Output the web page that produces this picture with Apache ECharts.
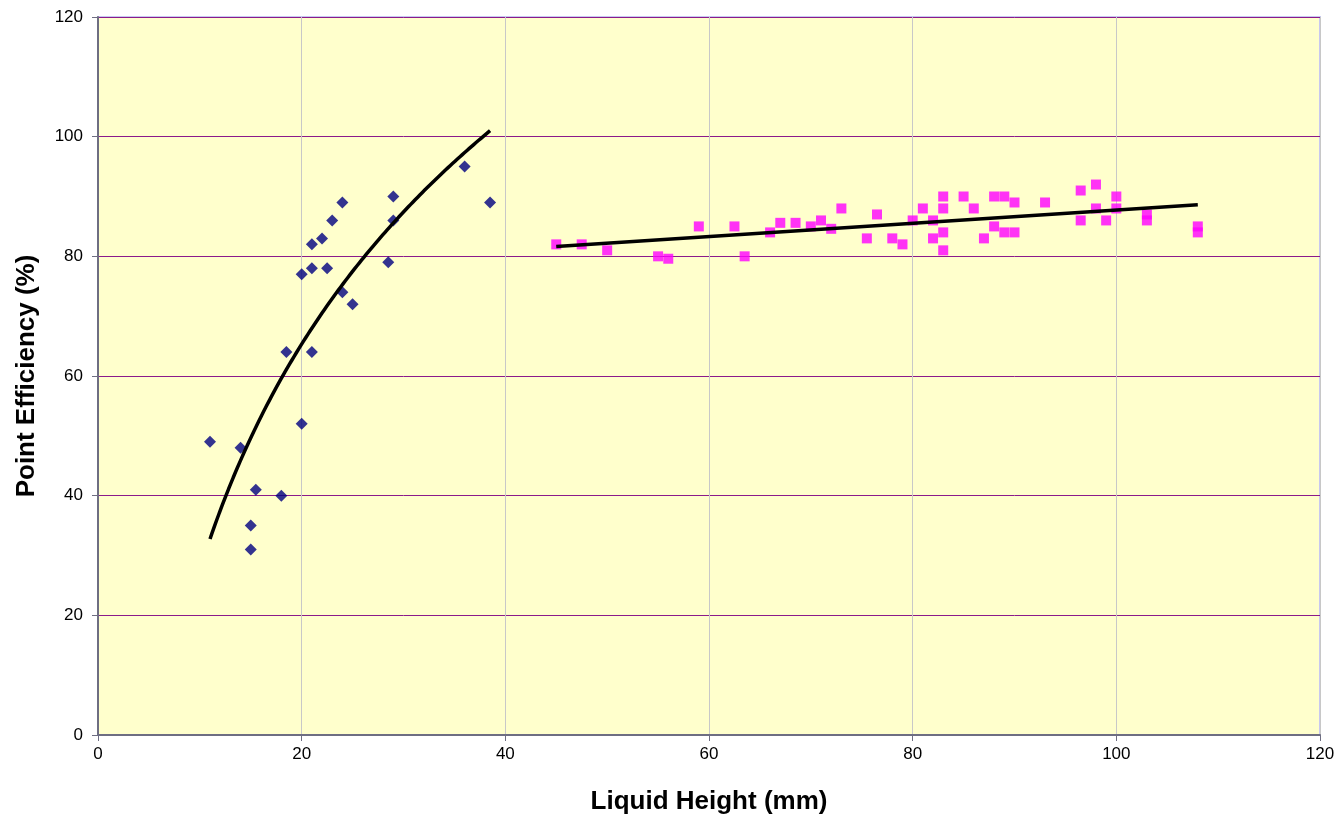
<!DOCTYPE html>
<html>
<head>
<meta charset="utf-8">
<script src="https://cdn.jsdelivr.net/npm/echarts@6/dist/echarts.min.js"></script>
<style>
  html, body { margin: 0; padding: 0; background: #fff; }
  #chart { width: 1343px; height: 816px; }
</style>
</head>
<body>
<div id="chart"></div>
<script>
// low liquid height points (blue diamonds)
const lowX = [11, 14, 15.5, 15, 15, 18, 18.5, 20, 20, 21, 21, 21, 22, 22.5, 23, 24, 24, 25, 28.5, 29, 29, 36, 38.5]
const lowY = [49, 48, 41, 35, 31, 40, 64, 52, 77, 64, 78, 82, 83, 78, 86, 89, 74, 72, 79, 90, 86, 95, 89]

// high liquid height points (magenta squares)
const highX = [45, 47.5, 50, 55, 56, 59, 62.5, 63.5, 66, 67, 68.5, 70, 71, 72, 73, 75.5, 76.5, 78, 79, 80, 81,
  82, 82, 83, 83, 83, 83, 85, 86, 87, 88, 88, 89, 89, 90, 90, 93, 96.5, 96.5, 98, 98, 99, 100, 100, 103, 103, 108, 108]
const highY = [82, 82, 81, 80, 79.6, 85, 85, 80, 84, 85.6, 85.6, 85, 86, 84.6, 88, 83, 87, 83, 82, 86, 88,
  86, 83, 90, 88, 84, 81, 90, 88, 83, 90, 85, 90, 84, 84, 89, 89, 91, 86, 92, 88, 86, 90, 88, 87, 86, 85, 84]

const xTicks = [0, 20, 40, 60, 80, 100, 120]
const yTicks = [0, 20, 40, 60, 80, 100, 120]

// least squares fit, y = a * f(x) + b
function fit(xs, ys, f) {
  const n = xs.length
  let sx = 0, sy = 0, sxx = 0, sxy = 0
  for (let i = 0; i < n; i++) {
    const u = f(xs[i])
    sx += u; sy += ys[i]; sxx += u * u; sxy += u * ys[i]
  }
  const a = (n * sxy - sx * sy) / (n * sxx - sx * sx)
  const b = (sy - a * sx) / n
  return x => a * f(x) + b
}

function trend(xs, ys, f, steps) {
  const g = fit(xs, ys, f)
  const lo = Math.min(...xs)
  const hi = Math.max(...xs)
  const out = []
  for (let i = 0; i <= steps; i++) {
    const x = lo + (hi - lo) * i / steps
    out.push([x, g(x)])
  }
  return out
}

const lowTrend = trend(lowX, lowY, Math.log, 60)
const highTrend = trend(highX, highY, x => x, 1)

const axisColor = '#6E6E82'

const chart = echarts.init(document.getElementById('chart'))
chart.setOption({
  animation: false,
  textStyle: { fontFamily: '"Liberation Sans", Arial, sans-serif' },
  grid: {
    show: true,
    left: 98,
    right: 23,
    top: 17,
    bottom: 81,
    outerBoundsMode: 'none',
    backgroundColor: '#FFFFCC',
    borderColor: '#C8C8F0',
    borderWidth: 2
  },
  xAxis: {
    type: 'value',
    min: 0,
    max: 120,
    interval: 20,
    name: 'Liquid Height (mm)',
    nameLocation: 'middle',
    nameGap: 54,
    nameTextStyle: { fontSize: 26, fontWeight: 'bold', color: '#000' },
    axisLine: { show: true, lineStyle: { color: axisColor, width: 2 } },
    axisTick: { show: true, inside: false, length: 6, lineStyle: { color: axisColor, width: 1 } },
    axisLabel: {
      color: '#000', fontSize: 17, margin: 11,
      formatter: v => xTicks.includes(v) ? String(v) : ''
    },
    splitLine: { show: true, lineStyle: { color: '#C8C8C8', width: 1 } }
  },
  yAxis: {
    type: 'value',
    min: 0,
    max: 120,
    interval: 20,
    name: 'Point Efficiency (%)',
    nameLocation: 'middle',
    nameGap: 58,
    nameTextStyle: { fontSize: 26, fontWeight: 'bold', color: '#000' },
    axisLine: { show: true, lineStyle: { color: axisColor, width: 2 } },
    axisTick: { show: true, inside: false, length: 6, lineStyle: { color: axisColor, width: 1 } },
    axisLabel: {
      color: '#000', fontSize: 17, margin: 15,
      formatter: v => yTicks.includes(v) ? String(v) : ''
    },
    splitLine: { show: true, lineStyle: { color: '#8B1A8B', width: 1 } }
  },
  series: [
    {
      type: 'scatter',
      data: lowX.map((x, i) => [x, lowY[i]]),
      symbol: 'diamond',
      symbolSize: [12, 12],
      itemStyle: { color: '#000080' },
      z: 3
    },
    {
      type: 'scatter',
      data: highX.map((x, i) => [x, highY[i]]),
      symbol: 'rect',
      symbolSize: [10, 10],
      itemStyle: { color: '#FF00FF' },
      z: 3
    },
    {
      type: 'line',
      data: lowTrend,
      smooth: true,
      showSymbol: false,
      lineStyle: { color: '#000', width: 3.5 },
      z: 4
    },
    {
      type: 'line',
      data: highTrend,
      showSymbol: false,
      lineStyle: { color: '#000', width: 3.5 },
      z: 4
    }
  ]
})
</script>
</body>
</html>
